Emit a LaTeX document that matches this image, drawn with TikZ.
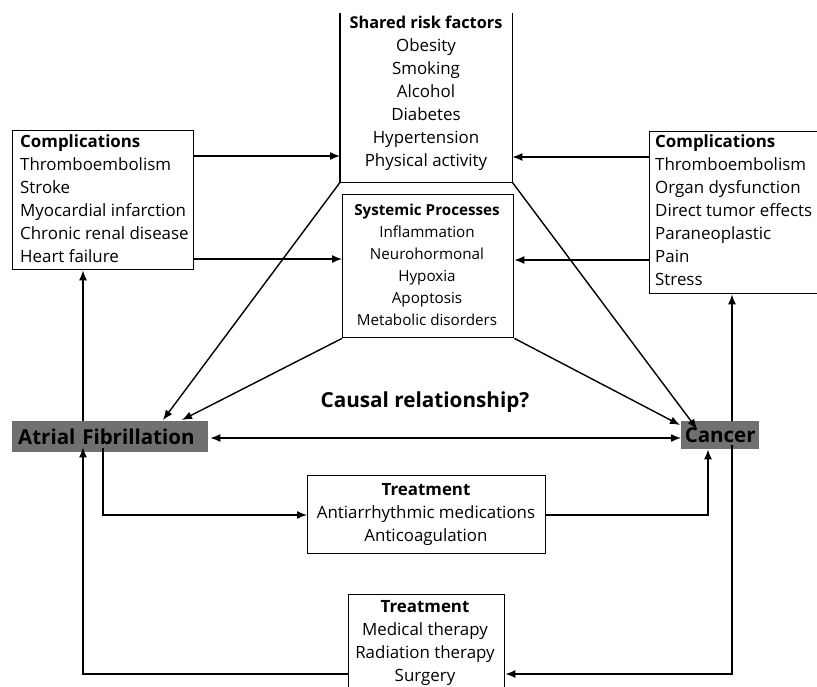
\documentclass[tikz,border=0pt]{standalone}
\usepackage{fontspec}
\setmainfont{Open Sans}
\usetikzlibrary{arrows.meta,calc}
\definecolor{boxgray}{RGB}{112,112,112}
\begin{document}
\begin{tikzpicture}[x=1pt,y=-1pt,
  box/.style={draw, line width=1.4pt, inner sep=0pt, anchor=north west},
  txt/.style={inner sep=0pt, font=\fontsize{16.9}{23}\selectfont},
  stxt/.style={inner sep=0pt, font=\fontsize{15.2}{22}\selectfont},
  dx/.style={fill=boxgray, inner ysep=0pt, anchor=north west, font=\fontsize{20.5}{22}\selectfont\bfseries},
  arr/.style={-{Latex[length=10pt,width=8pt]}, line width=1.4pt},
  ln/.style={line width=1.4pt},
  dbl/.style={{Latex[length=10pt,width=8pt]}-{Latex[length=10pt,width=8pt]}, line width=1.4pt}]
\useasboundingbox (0,0) rectangle (817,687);

% boxes
\node[box, minimum width=181pt, minimum height=139pt] (lc) at (12,130) {};
\node[box, minimum width=210pt, minimum height=162pt] (rc) at (649,131) {};
\node[inner sep=0pt, anchor=north west, minimum width=172pt, minimum height=182pt] (rf) at (340,0) {};
\draw[ln] ([yshift=-13pt]rf.north west) -- (rf.south west) -- (rf.south east) -- ([yshift=-13pt]rf.north east);
\node[box, minimum width=171pt, minimum height=143pt] (sp) at (342,194) {};
\node[box, minimum width=238pt, minimum height=78pt] (t1) at (307,475) {};
\node[box, minimum width=156pt, minimum height=120pt] (t2) at (348,594) {};
\node[dx, inner xsep=6pt, text width=184pt, align=left, minimum height=31pt] (af) at (12,421) {Atrial Fibrillation};
\node[dx, inner xsep=0pt, minimum width=78pt, minimum height=28pt] (ca) at (681,421) {Cancer};

% texts
\node[txt, anchor=north west, align=left] (lct) at (20,134) {\textbf{Complications}\\Thromboembolism\\Stroke\\Myocardial infarction\\Chronic renal disease\\Heart failure};
\node[txt, anchor=north west, align=left] (rct) at (655,134) {\textbf{Complications}\\Thromboembolism\\Organ dysfunction\\Direct tumor effects\\Paraneoplastic\\Pain\\Stress};
\node[txt, anchor=north, align=center] (rft) at (426,16) {\textbf{\fontsize{16.3}{23}\selectfont Shared risk factors}\\Obesity\\Smoking\\Alcohol\\Diabetes\\Hypertension\\Physical activity};
\node[stxt, anchor=north, align=center] (spt) at (427,204) {\textbf{Systemic Processes}\\Inflammation\\Neurohormonal\\Hypoxia\\Apoptosis\\Metabolic disorders};
\node[txt, anchor=north, align=center] (t1t) at (426,483) {\textbf{Treatment}\\Antiarrhythmic medications\\Anticoagulation};
\node[txt, anchor=north, align=center] (t2t) at (425,600) {\textbf{Treatment}\\Medical therapy\\Radiation therapy\\Surgery};
\node[inner sep=0pt, font=\fontsize{20.7}{22}\selectfont\bfseries] (cr) at (425,402) {Causal relationship?};

% connectors
\draw[arr] (lc.east |- 0,156) -- (rf.west |- 0,156);
\draw[arr] (lc.east |- 0,259) -- (sp.west |- 0,259);
\draw[arr] (rc.west |- 0,157) -- (rf.east |- 0,157);
\draw[arr] (rc.west |- 0,260) -- (sp.east |- 0,260);
\draw[arr] (rf.south west) -- ($(af.north west)+(151,-1)$);
\draw[arr] (sp.south west) -- ($(af.north west)+(170,-1)$);
\draw[arr] (rf.south east) -- ($(ca.north west)+(16,8)$);
\draw[arr] (sp.south east) -- ($(ca.north west)+(-1,4)$);
\draw[dbl] ([xshift=2pt]af.east |- 0,438) -- (ca.west |- 0,438);
\draw[arr] (af.north -| 83,0) -- (lc.south -| 83,0);
\draw[arr] (t2.west |- 0,674) -| ([yshift=5pt]af.south -| 83,0);
\draw[arr] ([yshift=4pt]af.south -| 103,0) |- (t1.west |- 0,515);
\draw[arr] (t1.east |- 0,515) -| (ca.south -| 708,0);
\draw[arr] ([yshift=4pt]ca.south -| 732,0) |- (t2.east |- 0,674);
\draw[arr] (ca.north -| 732,0) -- (rc.south -| 732,0);
\end{tikzpicture}
\end{document}
